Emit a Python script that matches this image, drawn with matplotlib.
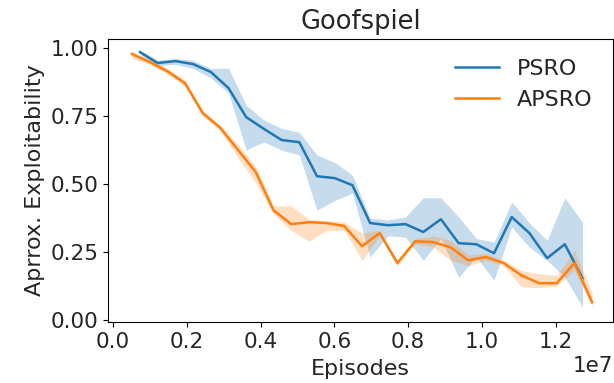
import numpy as np
import matplotlib
matplotlib.use("Agg")
from matplotlib import pyplot as plt

# episodes (x1e7) for each run
psroEpisodes = [0.073, 0.121, 0.169, 0.217, 0.265, 0.313, 0.361, 0.409, 0.457, 0.505,
                0.553, 0.601, 0.649, 0.697, 0.745, 0.793, 0.841, 0.889, 0.937, 0.985,
                1.033, 1.081, 1.129, 1.177, 1.225, 1.273]
psroMean = [0.985, 0.945, 0.952, 0.941, 0.912, 0.853, 0.746, 0.703, 0.662, 0.654,
            0.529, 0.522, 0.496, 0.357, 0.349, 0.353, 0.324, 0.371, 0.283, 0.279,
            0.246, 0.379, 0.320, 0.228, 0.279, 0.154]
psroLow = [0.978, 0.935, 0.940, 0.925, 0.890, 0.835, 0.625, 0.655, 0.625, 0.607,
           0.404, 0.440, 0.467, 0.232, 0.310, 0.305, 0.220, 0.300, 0.158, 0.232,
           0.147, 0.342, 0.268, 0.220, 0.158, 0.048]
psroHigh = [0.992, 0.955, 0.962, 0.955, 0.925, 0.926, 0.790, 0.735, 0.705, 0.690,
            0.607, 0.580, 0.533, 0.375, 0.368, 0.380, 0.450, 0.450, 0.380, 0.300,
            0.287, 0.435, 0.357, 0.294, 0.450, 0.360]

apsroEpisodes = [0.051, 0.099, 0.147, 0.195, 0.243, 0.291, 0.339, 0.387, 0.435, 0.483,
                 0.531, 0.579, 0.627, 0.675, 0.723, 0.771, 0.819, 0.867, 0.915, 0.963,
                 1.011, 1.059, 1.107, 1.155, 1.203, 1.251, 1.299]
apsroMean = [0.978, 0.949, 0.915, 0.871, 0.761, 0.706, 0.625, 0.544, 0.404, 0.353,
             0.360, 0.357, 0.346, 0.272, 0.320, 0.210, 0.290, 0.287, 0.268, 0.220,
             0.232, 0.210, 0.165, 0.136, 0.136, 0.210, 0.066]
apsroLow = [0.962, 0.940, 0.905, 0.860, 0.750, 0.698, 0.595, 0.505, 0.390, 0.330,
            0.290, 0.330, 0.330, 0.220, 0.310, 0.200, 0.280, 0.270, 0.220, 0.200,
            0.220, 0.200, 0.123, 0.120, 0.125, 0.184, 0.050]
apsroHigh = [0.990, 0.958, 0.925, 0.882, 0.772, 0.715, 0.645, 0.565, 0.420, 0.420,
             0.370, 0.365, 0.360, 0.320, 0.330, 0.220, 0.300, 0.310, 0.294, 0.240,
             0.245, 0.220, 0.183, 0.170, 0.165, 0.257, 0.100]

plt.rcParams['font.size'] = 15.5
plt.rcParams['text.color'] = '#262626'
plt.rcParams['xtick.labelcolor'] = '#262626'
plt.rcParams['ytick.labelcolor'] = '#262626'
plt.rcParams['axes.labelcolor'] = '#262626'

fig = plt.figure(figsize=(6.14, 3.83), dpi=100)
ax = fig.add_axes([0.176, 0.159, 0.822, 0.739])

x1 = np.array(psroEpisodes) * 1e7
x2 = np.array(apsroEpisodes) * 1e7
ax.plot(x1, psroMean, color="C0", lw=1.8, label="PSRO")
ax.fill_between(x1, psroLow, psroHigh, color="C0", alpha=0.25, lw=0)
ax.plot(x2, apsroMean, color="C1", lw=1.8, label="APSRO")
ax.fill_between(x2, apsroLow, apsroHigh, color="C1", alpha=0.25, lw=0)

ax.set_xlim(-0.0136e7, 1.355e7)
ax.set_ylim(-0.007, 1.033)
ax.set_yticks([0.0, 0.25, 0.5, 0.75, 1.0])
ax.set_xticks(np.arange(0, 1.3e7, 0.2e7))
ax.tick_params(labelsize=15.5)
ax.set_xlabel("Episodes", fontsize=16, labelpad=5)
ax.set_ylabel("Aprrox. Exploitability", fontsize=16)
ax.set_title("Goofspiel", fontsize=18.5, pad=7)
ax.legend(loc="upper right", fontsize=16, frameon=False)

fig.savefig("out.png", dpi=100)
